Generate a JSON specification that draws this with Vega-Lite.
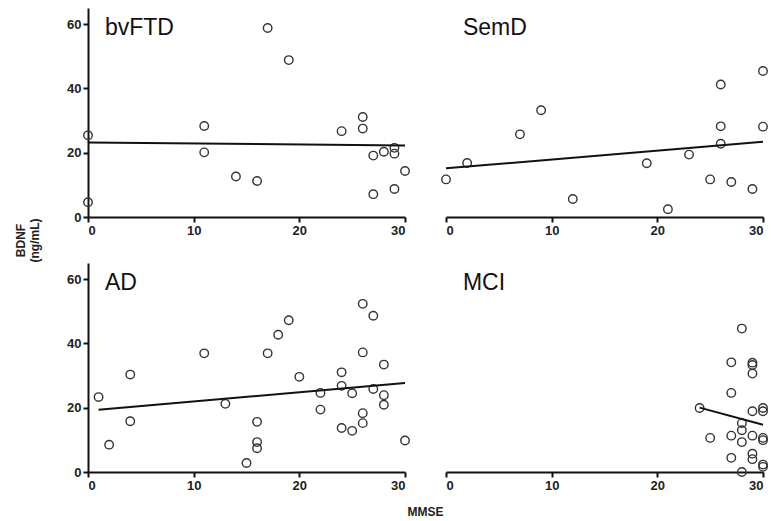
{
  "$schema": "https://vega.github.io/schema/vega-lite/v6.json",
  "autosize": {"type": "pad"},
  "padding": {"left": 14, "top": 8, "right": 0, "bottom": 4},
  "background": "white",
  "data": {
    "values": [
      {"g": "bvFTD", "mmse": 0, "bdnf": 25.4},
      {"g": "bvFTD", "mmse": 0, "bdnf": 4.6},
      {"g": "bvFTD", "mmse": 11, "bdnf": 28.3},
      {"g": "bvFTD", "mmse": 11, "bdnf": 20.1},
      {"g": "bvFTD", "mmse": 14, "bdnf": 12.6},
      {"g": "bvFTD", "mmse": 16, "bdnf": 11.2},
      {"g": "bvFTD", "mmse": 17, "bdnf": 58.8},
      {"g": "bvFTD", "mmse": 19, "bdnf": 48.8},
      {"g": "bvFTD", "mmse": 24, "bdnf": 26.7},
      {"g": "bvFTD", "mmse": 26, "bdnf": 31.1},
      {"g": "bvFTD", "mmse": 26, "bdnf": 27.5},
      {"g": "bvFTD", "mmse": 27, "bdnf": 19.1},
      {"g": "bvFTD", "mmse": 27, "bdnf": 7.1},
      {"g": "bvFTD", "mmse": 28, "bdnf": 20.3},
      {"g": "bvFTD", "mmse": 29, "bdnf": 21.5},
      {"g": "bvFTD", "mmse": 29, "bdnf": 19.7},
      {"g": "bvFTD", "mmse": 29, "bdnf": 8.7},
      {"g": "bvFTD", "mmse": 30, "bdnf": 14.3},
      {"g": "SemD", "mmse": 0, "bdnf": 11.7},
      {"g": "SemD", "mmse": 2, "bdnf": 16.8},
      {"g": "SemD", "mmse": 7, "bdnf": 25.7},
      {"g": "SemD", "mmse": 9, "bdnf": 33.2},
      {"g": "SemD", "mmse": 12, "bdnf": 5.6},
      {"g": "SemD", "mmse": 19, "bdnf": 16.7},
      {"g": "SemD", "mmse": 21, "bdnf": 2.4},
      {"g": "SemD", "mmse": 23, "bdnf": 19.4},
      {"g": "SemD", "mmse": 25, "bdnf": 11.7},
      {"g": "SemD", "mmse": 26, "bdnf": 41.2},
      {"g": "SemD", "mmse": 26, "bdnf": 28.2},
      {"g": "SemD", "mmse": 26, "bdnf": 22.8},
      {"g": "SemD", "mmse": 27, "bdnf": 10.9},
      {"g": "SemD", "mmse": 29, "bdnf": 8.7},
      {"g": "SemD", "mmse": 30, "bdnf": 45.4},
      {"g": "SemD", "mmse": 30, "bdnf": 28.1},
      {"g": "AD", "mmse": 1, "bdnf": 23.3},
      {"g": "AD", "mmse": 2, "bdnf": 8.5},
      {"g": "AD", "mmse": 4, "bdnf": 30.3},
      {"g": "AD", "mmse": 4, "bdnf": 15.8},
      {"g": "AD", "mmse": 11, "bdnf": 36.9},
      {"g": "AD", "mmse": 13, "bdnf": 21.2},
      {"g": "AD", "mmse": 15, "bdnf": 2.8},
      {"g": "AD", "mmse": 16, "bdnf": 15.6},
      {"g": "AD", "mmse": 16, "bdnf": 9.3},
      {"g": "AD", "mmse": 16, "bdnf": 7.4},
      {"g": "AD", "mmse": 17, "bdnf": 36.9},
      {"g": "AD", "mmse": 18, "bdnf": 42.7},
      {"g": "AD", "mmse": 19, "bdnf": 47.2},
      {"g": "AD", "mmse": 20, "bdnf": 29.6},
      {"g": "AD", "mmse": 22, "bdnf": 24.6},
      {"g": "AD", "mmse": 22, "bdnf": 19.4},
      {"g": "AD", "mmse": 24, "bdnf": 31.0},
      {"g": "AD", "mmse": 24, "bdnf": 26.8},
      {"g": "AD", "mmse": 24, "bdnf": 13.7},
      {"g": "AD", "mmse": 25, "bdnf": 24.5},
      {"g": "AD", "mmse": 25, "bdnf": 12.8},
      {"g": "AD", "mmse": 26, "bdnf": 52.3},
      {"g": "AD", "mmse": 26, "bdnf": 37.2},
      {"g": "AD", "mmse": 26, "bdnf": 18.3},
      {"g": "AD", "mmse": 26, "bdnf": 15.2},
      {"g": "AD", "mmse": 27, "bdnf": 48.6},
      {"g": "AD", "mmse": 27, "bdnf": 25.8},
      {"g": "AD", "mmse": 28, "bdnf": 33.4},
      {"g": "AD", "mmse": 28, "bdnf": 23.9},
      {"g": "AD", "mmse": 28, "bdnf": 20.9},
      {"g": "AD", "mmse": 30, "bdnf": 9.8},
      {"g": "MCI", "mmse": 24, "bdnf": 19.9},
      {"g": "MCI", "mmse": 25, "bdnf": 10.6},
      {"g": "MCI", "mmse": 27, "bdnf": 34.1},
      {"g": "MCI", "mmse": 27, "bdnf": 24.6},
      {"g": "MCI", "mmse": 27, "bdnf": 11.3},
      {"g": "MCI", "mmse": 27, "bdnf": 4.4},
      {"g": "MCI", "mmse": 28, "bdnf": 44.6},
      {"g": "MCI", "mmse": 28, "bdnf": 15.2},
      {"g": "MCI", "mmse": 28, "bdnf": 13.0},
      {"g": "MCI", "mmse": 28, "bdnf": 9.3},
      {"g": "MCI", "mmse": 28, "bdnf": 0},
      {"g": "MCI", "mmse": 29, "bdnf": 34.0},
      {"g": "MCI", "mmse": 29, "bdnf": 33.3},
      {"g": "MCI", "mmse": 29, "bdnf": 30.6},
      {"g": "MCI", "mmse": 29, "bdnf": 18.9},
      {"g": "MCI", "mmse": 29, "bdnf": 11.3},
      {"g": "MCI", "mmse": 29, "bdnf": 5.7},
      {"g": "MCI", "mmse": 29, "bdnf": 4.0},
      {"g": "MCI", "mmse": 30, "bdnf": 19.9},
      {"g": "MCI", "mmse": 30, "bdnf": 18.9},
      {"g": "MCI", "mmse": 30, "bdnf": 10.6},
      {"g": "MCI", "mmse": 30, "bdnf": 9.9},
      {"g": "MCI", "mmse": 30, "bdnf": 2.3},
      {"g": "MCI", "mmse": 30, "bdnf": 1.6}
    ]
  },
  "columns": 2,
  "spacing": {"row": 46, "column": 41},
  "bounds": "flush",
  "resolve": {"scale": {"x": "independent", "y": "independent"}},
  "concat": [
    {
      "width": 317, "height": 209,
      "transform": [{"filter": "datum.g === 'bvFTD'"}],
      "layer": [
        {
          "mark": {"type": "point", "filled": false, "size": 72, "stroke": "#333", "strokeWidth": 1.4, "opacity": 1},
          "encoding": {
            "x": {"field": "mmse", "type": "quantitative", "scale": {"domain": [0, 30], "nice": false, "zero": false}, "axis": {"values": [0, 10, 20, 30], "title": null}},
            "y": {"field": "bdnf", "type": "quantitative", "scale": {"domain": [0, 65], "nice": false}, "axis": {"values": [0, 20, 40, 60], "title": ["BDNF", "(ng/mL)"], "titleX": -68, "titleY": 232, "titleAngle": 270, "titleAlign": "center", "titleBaseline": "middle", "titleFontSize": 12, "titleFontWeight": "bold", "titleLineHeight": 14, "titleColor": "#222"}}
          }
        },
        {
          "transform": [{"regression": "bdnf", "on": "mmse"}],
          "mark": {"type": "line", "color": "#111", "strokeWidth": 2},
          "encoding": {"x": {"field": "mmse", "type": "quantitative"}, "y": {"field": "bdnf", "type": "quantitative"}}
        },
        {
          "transform": [{"aggregate": [{"op": "count", "as": "n"}], "groupby": ["g"]}],
          "mark": {"type": "text", "align": "left", "baseline": "alphabetic", "fontSize": 23, "font": "Liberation Sans", "color": "#111"},
          "encoding": {"x": {"datum": 1.6}, "y": {"datum": 56.6}, "text": {"field": "g"}}
        }
      ]
    },
    {
      "width": 317, "height": 209,
      "transform": [{"filter": "datum.g === 'SemD'"}],
      "layer": [
        {
          "mark": {"type": "point", "filled": false, "size": 72, "stroke": "#333", "strokeWidth": 1.4, "opacity": 1},
          "encoding": {
            "x": {"field": "mmse", "type": "quantitative", "scale": {"domain": [0, 30], "nice": false, "zero": false}, "axis": {"values": [0, 10, 20, 30], "title": null}},
            "y": {"field": "bdnf", "type": "quantitative", "scale": {"domain": [0, 65], "nice": false}, "axis": null}
          }
        },
        {
          "transform": [{"regression": "bdnf", "on": "mmse"}],
          "mark": {"type": "line", "color": "#111", "strokeWidth": 2},
          "encoding": {"x": {"field": "mmse", "type": "quantitative"}, "y": {"field": "bdnf", "type": "quantitative"}}
        },
        {
          "transform": [{"aggregate": [{"op": "count", "as": "n"}], "groupby": ["g"]}],
          "mark": {"type": "text", "align": "left", "baseline": "alphabetic", "fontSize": 23, "font": "Liberation Sans", "color": "#111"},
          "encoding": {"x": {"datum": 1.6}, "y": {"datum": 56.6}, "text": {"field": "g"}}
        }
      ]
    },
    {
      "width": 317, "height": 209,
      "transform": [{"filter": "datum.g === 'AD'"}],
      "layer": [
        {
          "mark": {"type": "point", "filled": false, "size": 72, "stroke": "#333", "strokeWidth": 1.4, "opacity": 1},
          "encoding": {
            "x": {"field": "mmse", "type": "quantitative", "scale": {"domain": [0, 30], "nice": false, "zero": false}, "axis": {"values": [0, 10, 20, 30], "title": "MMSE", "titleX": 337, "titleY": 39, "titleAlign": "center", "titleBaseline": "middle", "titleFontSize": 12, "titleFontWeight": "bold", "titleColor": "#222"}},
            "y": {"field": "bdnf", "type": "quantitative", "scale": {"domain": [0, 65], "nice": false}, "axis": {"values": [0, 20, 40, 60], "title": null}}
          }
        },
        {
          "transform": [{"regression": "bdnf", "on": "mmse"}],
          "mark": {"type": "line", "color": "#111", "strokeWidth": 2},
          "encoding": {"x": {"field": "mmse", "type": "quantitative"}, "y": {"field": "bdnf", "type": "quantitative"}}
        },
        {
          "transform": [{"aggregate": [{"op": "count", "as": "n"}], "groupby": ["g"]}],
          "mark": {"type": "text", "align": "left", "baseline": "alphabetic", "fontSize": 23, "font": "Liberation Sans", "color": "#111"},
          "encoding": {"x": {"datum": 1.6}, "y": {"datum": 56.6}, "text": {"field": "g"}}
        }
      ]
    },
    {
      "width": 317, "height": 209,
      "transform": [{"filter": "datum.g === 'MCI'"}],
      "layer": [
        {
          "mark": {"type": "point", "filled": false, "size": 72, "stroke": "#333", "strokeWidth": 1.4, "opacity": 1},
          "encoding": {
            "x": {"field": "mmse", "type": "quantitative", "scale": {"domain": [0, 30], "nice": false, "zero": false}, "axis": {"values": [0, 10, 20, 30], "title": null}},
            "y": {"field": "bdnf", "type": "quantitative", "scale": {"domain": [0, 65], "nice": false}, "axis": null}
          }
        },
        {
          "transform": [{"regression": "bdnf", "on": "mmse"}],
          "mark": {"type": "line", "color": "#111", "strokeWidth": 2},
          "encoding": {"x": {"field": "mmse", "type": "quantitative"}, "y": {"field": "bdnf", "type": "quantitative"}}
        },
        {
          "transform": [{"aggregate": [{"op": "count", "as": "n"}], "groupby": ["g"]}],
          "mark": {"type": "text", "align": "left", "baseline": "alphabetic", "fontSize": 23, "font": "Liberation Sans", "color": "#111"},
          "encoding": {"x": {"datum": 1.6}, "y": {"datum": 56.6}, "text": {"field": "g"}}
        }
      ]
    }
  ],
  "config": {
    "view": {"stroke": null},
    "font": "Liberation Sans",
    "axis": {
      "grid": false,
      "domainColor": "#111",
      "domainWidth": 2,
      "tickColor": "#111",
      "tickWidth": 2,
      "tickSize": 5,
      "labelFont": "Liberation Sans",
      "labelFontWeight": "bold",
      "labelFontSize": 13,
      "labelColor": "#222",
      "labelPadding": 2,
      "titleFont": "Liberation Sans"
    }
  }
}
